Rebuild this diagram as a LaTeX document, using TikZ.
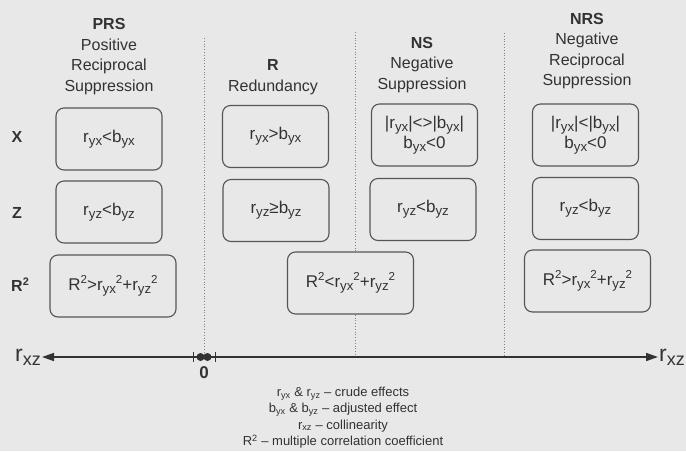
\documentclass[tikz,border=0pt]{standalone}
\usepackage{fontspec}
\setmainfont{Liberation Sans}
\usetikzlibrary{arrows.meta,positioning}
\definecolor{paper}{RGB}{232,232,232}
\definecolor{ink}{RGB}{50,50,50}
\definecolor{frame}{RGB}{85,85,85}
\definecolor{divgrey}{RGB}{130,130,130}
\newcommand{\sbs}[1]{\raisebox{-0.32ex}{\scalebox{0.78}{#1}}}
\newcommand{\sps}[1]{\raisebox{0.75ex}{\scalebox{0.68}{#1}}}

\begin{document}
\begin{tikzpicture}[x=1pt,y=-1pt,
  font=\fontsize{16}{20.5}\selectfont, text=ink,
  cond/.style={draw=frame,fill=paper,rounded corners=8pt,line width=1.1pt,
               minimum width=106pt,minimum height=62pt,align=center,inner sep=2pt,
               font=\fontsize{17}{20}\selectfont},
  wide/.style={cond,minimum width=126pt},
  head/.style={align=center},
  rowlbl/.style={font=\fontsize{16}{20}\selectfont\bfseries},
  axlbl/.style={font=\fontsize{23}{23}\selectfont,inner sep=1pt},
  divider/.style={draw=divgrey,line width=0.8pt,dotted},
  axis/.style={{Triangle[length=12pt,width=8pt]}-{Triangle[length=12pt,width=8pt]},
               line width=1.5pt,draw=ink}]

\useasboundingbox (0,0) rectangle (686,451);
\fill[paper] (0,0) rectangle (686,451);

% dividers
\coordinate (d1) at (204,38);
\coordinate (d2) at (355,32);
\coordinate (d3) at (504,33);
\coordinate (zero) at (204,357);
\draw[divider] (d1) -- (d1 |- zero);
\draw[divider] (d2) -- (d2 |- zero);
\draw[divider] (d3) -- (d3 |- zero);

% headers
\node[head] (hprs) at (109,56.5) {\textbf{PRS}\\ Positive\\ Reciprocal\\ Suppression};
\node[head] (hr)   at (273,77)   {\textbf{R}\\ Redundancy};
\node[head] (hns)  at (422,65)   {\textbf{NS}\\ Negative\\ Suppression};
\node[head] (hnrs) at (587,51)   {\textbf{NRS}\\ Negative\\ Reciprocal\\ Suppression};

% row labels
\node[rowlbl] (lx) at (17,137) {X};
\node[rowlbl] (lz) at (17,213) {Z};
\node[rowlbl] (lr) at (20,285) {R\sps{2}};

% conditions
\node[cond] (prsx) at (109,139)   {r\sbs{yx}<b\sbs{yx}};
\node[cond] (prsz) at (109,212)   {r\sbs{yz}<b\sbs{yz}};
\node[wide] (prsr) at (113,286)   {R\sps{2}>r\sbs{yx}\sps{2}+r\sbs{yz}\sps{2}};
\node[cond] (rx)   at (275.5,136.5) {r\sbs{yx}>b\sbs{yx}};
\node[cond] (rz)   at (276,210.5) {r\sbs{yz}≥b\sbs{yz}};
\node[wide] (rr)   at (350.5,283) {R\sps{2}<r\sbs{yx}\sps{2}+r\sbs{yz}\sps{2}};
\node[cond] (nsx)  at (424.5,135) {|r\sbs{yx}|<>|b\sbs{yx}|\\ b\sbs{yx}<0};
\node[cond] (nsz)  at (423,209.5) {r\sbs{yz}<b\sbs{yz}};
\node[cond] (nrsx) at (585.5,135) {|r\sbs{yx}|<|b\sbs{yx}|\\ b\sbs{yx}<0};
\node[cond] (nrsz) at (585.5,208.5) {r\sbs{yz}<b\sbs{yz}};
\node[wide] (nrsr) at (587.5,281) {R\sps{2}>r\sbs{yx}\sps{2}+r\sbs{yz}\sps{2}};

% axis
\node[axlbl,anchor=east] (rxzl) at (42,357)  {r\sbs{xz}};
\node[axlbl,anchor=west] (rxzr) at (658,357) {r\sbs{xz}};
\draw[axis] (rxzl) -- (rxzr);
\draw[ink,line width=1pt] (193,352) -- (193,362) (215,352) -- (215,362);
\fill[ink] (200.5,357) circle (4pt) (207.5,357) circle (4pt);
\node[font=\fontsize{17}{17}\selectfont\bfseries] (zlbl) at (204,373) {0};

% legend
\node[align=center,font=\fontsize{13}{16.4}\selectfont] (key) at (343,417.5)
  {r\textsubscript{yx} \& r\textsubscript{yz} -- crude effects\\
   b\textsubscript{yx} \& b\textsubscript{yz} -- adjusted effect\\
   r\textsubscript{xz} -- collinearity\\
   R\textsuperscript{2} -- multiple correlation coefficient};
\end{tikzpicture}
\end{document}
